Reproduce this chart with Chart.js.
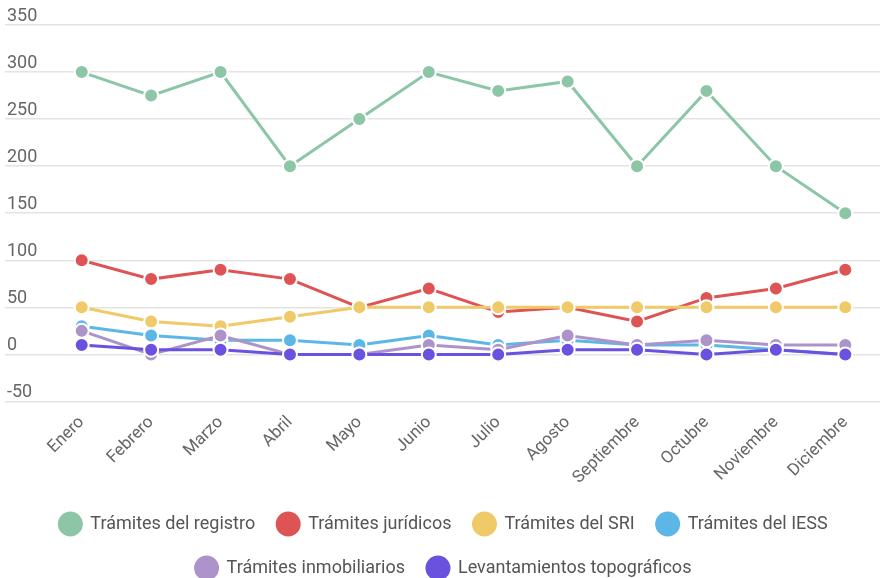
<!DOCTYPE html>
<html lang="es">
<head>
<meta charset="utf-8">
<title>Trámites por mes</title>
<script src="https://cdn.jsdelivr.net/npm/chart.js@4.4.1/dist/chart.umd.min.js"></script>
<style>
  html, body { margin: 0; padding: 0; background: #fff; overflow: hidden; }
  #contenedor { position: relative; width: 880px; height: 578px; }
  #tramitesXMes { display: block; }
</style>
</head>
<body>
<div id="contenedor">
  <canvas id="tramitesXMes"></canvas>
</div>
<script>
//Meses del año (eje X)
const meses = ['Enero','Febrero','Marzo','Abril','Mayo','Junio',
    'Julio','Agosto','Septiembre','Octubre','Noviembre','Diciembre'];

//Valores de cada tipo de trámite por mes
const registro      = [300, 275, 300, 200, 250, 300, 280, 290, 200, 280, 200, 150];
const juridicos     = [100,  80,  90,  80,  50,  70,  45,  50,  35,  60,  70,  90];
const sri           = [ 50,  35,  30,  40,  50,  50,  50,  50,  50,  50,  50,  50];
const iess          = [ 30,  20,  15,  15,  10,  20,  10,  15,  10,  10,   5,   0];
const inmobiliarios = [ 25,   0,  20,   0,   0,  10,   5,  20,  10,  15,  10,  10];
const topograficos  = [ 10,   5,   5,   0,   0,   0,   0,   5,   5,   0,   5,   0];

//Límites del eje Y
const ejeYMin = -50;
const ejeYMax = 350;
const ejeYPaso = 50;

const series = [
    { label: 'Trámites del registro',      data: registro,      color: '#8cc6a6' },
    { label: 'Trámites jurídicos',         data: juridicos,     color: '#de5454' },
    { label: 'Trámites del SRI',           data: sri,           color: '#f0c968' },
    { label: 'Trámites del IESS',          data: iess,          color: '#5db7e6' },
    { label: 'Trámites inmobiliarios',     data: inmobiliarios, color: '#ac93c9' },
    { label: 'Levantamientos topográficos', data: topograficos, color: '#6b51df' }
];

//Las últimas series se dibujan encima
const datasets = series.map((s, i) => ({
    label: s.label,
    data: s.data,
    borderColor: s.color,
    backgroundColor: s.color,
    pointBackgroundColor: s.color,
    pointBorderColor: '#ffffff',
    pointBorderWidth: 2,
    pointRadius: 7,
    borderWidth: 3,
    tension: 0,
    order: series.length - i
}));

const grafica = document.getElementById('tramitesXMes');

new Chart(grafica, {
    type: 'line',
    data: {
        labels: meses,
        datasets: datasets
    },
    options: {
        responsive: true,
        maintainAspectRatio: false,
        animation: false,
        layout: {
            autoPadding: false,
            padding: { left: 7, right: 0, top: 25, bottom: -11 }
        },
        plugins: {
            tooltip: { enabled: false },
            legend: {
                position: 'bottom',
                labels: {
                    sort: (a, b) => a.datasetIndex - b.datasetIndex,
                    color: '#555',
                    font: { family: 'Roboto', size: 18 },
                    boxWidth: 22,
                    boxHeight: 22,
                    useBorderRadius: true,
                    borderRadius: 11,
                    padding: 22
                }
            }
        },
        scales: {
            x: {
                offset: true,
                grid: { display: false },
                border: { display: false },
                ticks: {
                    color: '#666',
                    font: { family: 'Roboto', size: 17 },
                    minRotation: 45,
                    maxRotation: 45,
                    padding: 3
                },
                //Sin margen extra a la derecha por la última etiqueta
                afterFit: (eje) => { eje.paddingRight = 0; }
            },
            y: {
                min: ejeYMin,
                max: ejeYMax,
                border: { display: false },
                grid: {
                    color: '#e3e3e3',
                    lineWidth: 1.5,
                    drawTicks: true,
                    tickLength: 42
                },
                ticks: {
                    stepSize: ejeYPaso,
                    color: '#666',
                    font: { family: 'Roboto', size: 18 },
                    crossAlign: 'far',
                    labelOffset: -9
                },
                afterFit: (eje) => { eje.width = 40; }
            }
        }
    }
});
</script>
</body>
</html>
